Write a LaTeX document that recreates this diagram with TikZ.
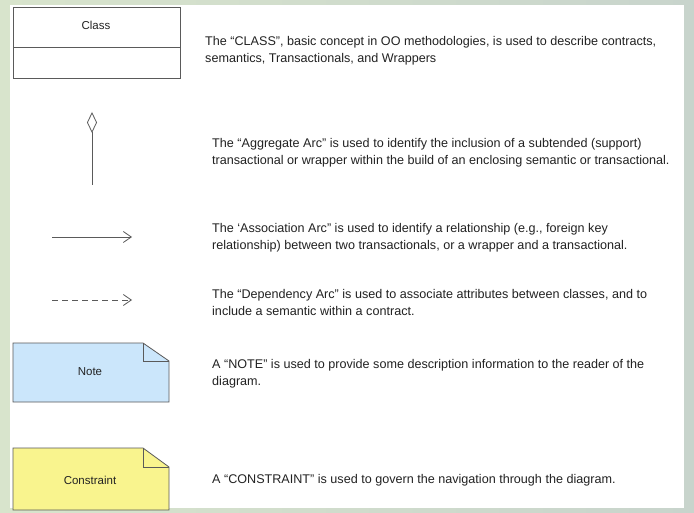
\documentclass[tikz,border=0pt]{standalone}
\usepackage{fontspec}
\setmainfont{Liberation Sans}
\usetikzlibrary{arrows.meta}

\definecolor{bgframe}{RGB}{200,212,204}
\definecolor{bgglow}{RGB}{216,228,204}
\definecolor{edgegray}{RGB}{90,90,90}
\definecolor{txtgray}{RGB}{34,34,34}
\definecolor{notefill}{RGB}{203,230,251}
\definecolor{constrfill}{RGB}{249,244,142}

\tikzset{
    desc/.style={anchor=west, align=left, inner sep=0pt, text=txtgray,
        font=\fontsize{12.6}{17}\selectfont},
    label/.style={inner sep=0pt, text=txtgray, font=\fontsize{11.5}{14}\selectfont},
    umlbox/.style={draw=edgegray, thick},
}

\begin{document}
\begin{tikzpicture}[x=1pt, y=-1pt]

    \useasboundingbox (0,0) rectangle (694,513);
    \shade[left color=bgglow, right color=bgframe] (0,0) rectangle (694,513);
    \fill[white] (10,5) rectangle (684,508);

    % class
    \draw[umlbox, fill=white] (13,7) rectangle (180,78);
    \draw[umlbox] (13,47) -- (180,47);
    \node[label] (classlbl) at (96,25) {Class};
    \node[desc] (classtxt) at (205,51) {The ``CLASS'', basic concept in OO methodologies, is used to describe contracts,\\semantics, Transactionals, and Wrappers};

    % aggregate
    \coordinate (aggtop) at (92,112);
    \coordinate (aggbot) at (92,185);
    \draw[edgegray, thick, {Diamond[open, length=21pt, width=10pt]}-] (aggtop) -- (aggbot);
    \node[desc] (aggtxt) at (212,153) {The ``Aggregate Arc'' is used to identify the inclusion of a subtended (support)\\transactional or wrapper within the build of an enclosing semantic or transactional.};

    % association
    \coordinate (assocA) at (52,237);
    \coordinate (assocB) at (132,237);
    \draw[edgegray, thick, -{Straight Barb[length=8pt, width=11pt]}] (assocA) -- (assocB);
    \node[desc] (assoctxt) at (212,238) {The `Association Arc'' is used to identify a relationship (e.g., foreign key\\relationship) between two transactionals, or a wrapper and a transactional.};

    % dependency
    \coordinate (depA) at (52,300);
    \coordinate (depB) at (132,300);
    \draw[edgegray, thick, dash pattern=on 6pt off 4pt, -{Straight Barb[length=8pt, width=11pt]}] (depA) -- (depB);
    \node[desc] (deptxt) at (212,302) {The ``Dependency Arc'' is used to associate attributes between classes, and to\\include a semantic within a contract.};

    % note
    \draw[umlbox, fill=notefill] (13,343) -- (143,343) -- (169,361) -- (169,402) -- (13,402) -- cycle;
    \draw[umlbox] (143,343) -- (143,361) -- (169,361);
    \node[label] (notelbl) at (90,372) {Note};
    \node[desc] (notetxt) at (212,374) {A ``NOTE'' is used to provide some description information to the reader of the\\diagram.};

    % constraint
    \draw[umlbox, fill=constrfill] (13,448) -- (143,448) -- (169,467) -- (169,510) -- (13,510) -- cycle;
    \draw[umlbox] (143,448) -- (143,467) -- (169,467);
    \node[label] (constrlbl) at (90,480) {Constraint};
    \node[desc] (constrtxt) at (212,480) {A ``CONSTRAINT'' is used to govern the navigation through the diagram.};

\end{tikzpicture}
\end{document}
